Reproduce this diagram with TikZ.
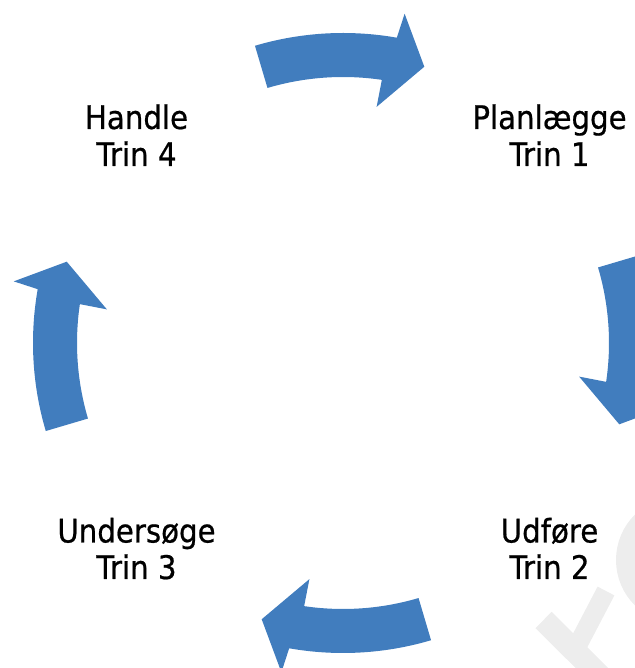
\documentclass[tikz,border=0pt]{standalone}
\usepackage{fontspec}
\setmainfont{DejaVu Sans}[FakeStretch=0.9, FakeBold=0.6]
\definecolor{arrowblue}{RGB}{65,125,190}
\definecolor{wmgray}{RGB}{237,237,237}
\begin{document}
\begin{tikzpicture}[x=1pt,y=1pt,
  lbl/.style={inner sep=0pt, anchor=base, font=\fontsize{32.5}{38}\selectfont},
  cyclearrow/.style={fill=arrowblue, draw=none},
  wm/.style={draw=wmgray, line cap=butt}]
\useasboundingbox (0,0) rectangle (634,668);
\coordinate (C) at (343,325);
% faint watermark
\draw[wm, line width=23] (543.5,48) -- (605,-13);
\draw[wm, line width=19] (572,12) -- (606,77);
\draw[wm, line width=22] (680,108) circle[radius=53];
% cycle arrows
\foreach \ang in {0,-90,-180,-270}{
  \begin{scope}[shift={(C)}, rotate=\ang]
    \fill[cyclearrow] (106.5:310) arc[start angle=106.5, end angle=80, radius=310]
      -- (79.4:335) -- (73.6:288) -- (81.9:238.5) -- (81.6:266)
      arc[start angle=81.6, end angle=106.5, radius=266] -- cycle;
  \end{scope}
}
% labels
\node[lbl] (h1) at (136.5,539) {Handle};
\node[lbl] (h2) at (136.5,502) {Trin 4};
\node[lbl] (p1) at (549.5,539) {Planlægge};
\node[lbl] (p2) at (549.5,502) {Trin 1};
\node[lbl] (u1) at (549.5,125.5) {Udføre};
\node[lbl] (u2) at (549.5,89) {Trin 2};
\node[lbl] (s1) at (136.5,125.5) {Undersøge};
\node[lbl] (s2) at (136.5,89) {Trin 3};
\end{tikzpicture}
\end{document}
